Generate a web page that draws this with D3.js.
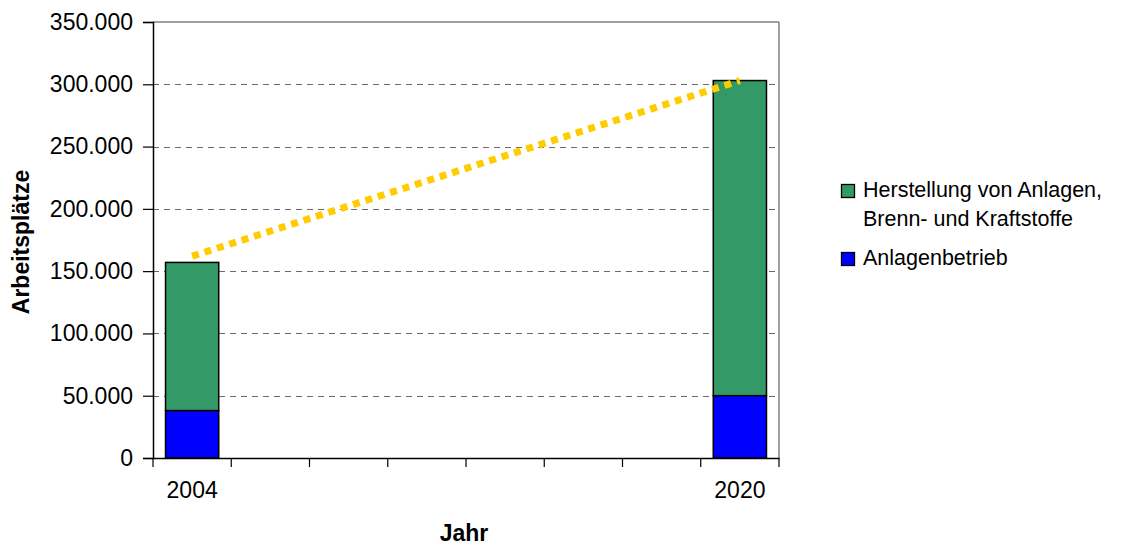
<!DOCTYPE html>
<html>
<head>
<meta charset="utf-8">
<script src="https://cdn.jsdelivr.net/npm/d3@7"></script>
<style>
  html, body { margin: 0; padding: 0; background: #fff; }
  svg { display: block; font-family: "Liberation Sans", Arial, sans-serif; }
</style>
</head>
<body>
<svg id="chart" width="1136" height="547"></svg>
<script>
// ---- data ----
const categories = ["2004", "_1", "_2", "_3", "_4", "_5", "_6", "2020"];
const barYears = ["2004", "2020"];
const anlagenbetrieb = [38000, 50000];
const herstellung = [119000, 253000];
const trendValues = [162000, 303000];
const yTicks = [0, 50000, 100000, 150000, 200000, 250000, 300000, 350000];
const seriesNames = ["Herstellung von Anlagen,|Brenn- und Kraftstoffe", "Anlagenbetrieb"];
const seriesColors = ["#339966", "#0000FF"];

// ---- layout ----
const svg = d3.select("#chart");
const pLeft = 153, pRight = 779, pTop = 22, pBottom = 458;

const x = d3.scaleBand().domain(categories).range([pLeft, pRight]).padding(0);
const y = d3.scaleLinear().domain([0, 350000]).range([pBottom, pTop]);
const de = d3.formatLocale({ decimal: ",", thousands: ".", grouping: [3], currency: ["", " €"] });
const fmt = de.format(",d");

// gridlines
svg.append("g").selectAll("line").data(yTicks.filter(d => d > 0 && d < 350000)).join("line")
  .attr("x1", pLeft).attr("x2", pRight)
  .attr("y1", d => Math.round(y(d)) + 0.5).attr("y2", d => Math.round(y(d)) + 0.5)
  .attr("stroke", "#6a6a6a").attr("stroke-width", 1.2).attr("stroke-dasharray", "6,5");

// border top/right
svg.append("line").attr("x1", pLeft).attr("x2", pRight).attr("y1", y(350000)).attr("y2", y(350000))
  .attr("stroke", "#808080").attr("stroke-width", 1.5);
svg.append("line").attr("x1", pRight).attr("x2", pRight).attr("y1", pTop).attr("y2", pBottom)
  .attr("stroke", "#808080").attr("stroke-width", 1.5);

// bars
const barW = x.bandwidth() * 0.68;
const stackData = barYears.map((yr, i) => ({ year: yr, a: anlagenbetrieb[i], h: herstellung[i] }));
const bx = d => x(d.year) + (x.bandwidth() - barW) / 2;
const gBars = svg.append("g");
gBars.selectAll("rect.h").data(stackData).join("rect").attr("class", "h")
  .attr("x", bx).attr("width", barW)
  .attr("y", d => y(d.a + d.h)).attr("height", d => y(d.a) - y(d.a + d.h))
  .attr("fill", seriesColors[0]).attr("stroke", "#000").attr("stroke-width", 1.5);
gBars.selectAll("rect.a").data(stackData).join("rect").attr("class", "a")
  .attr("x", bx).attr("width", barW)
  .attr("y", d => y(d.a)).attr("height", d => y(0) - y(d.a))
  .attr("fill", seriesColors[1]).attr("stroke", "#000").attr("stroke-width", 1.5);

// trend line
const line = d3.line().x((d, i) => x(barYears[i]) + x.bandwidth() / 2).y(d => y(d));
svg.append("path").datum(trendValues).attr("d", line)
  .attr("fill", "none").attr("stroke", "#FFCC00").attr("stroke-width", 7)
  .attr("stroke-dasharray", "7,6");

// y axis
const yAxis = d3.axisLeft(y).tickValues(yTicks).tickFormat(fmt).tickSize(10).tickPadding(10);
const gy = svg.append("g").attr("transform", `translate(${pLeft},0)`).call(yAxis);
gy.select(".domain").attr("stroke", "#000").attr("stroke-width", 1.5);
gy.selectAll(".tick line").attr("stroke", "#000").attr("stroke-width", 1.2);
gy.selectAll(".tick text").attr("font-size", 23).attr("fill", "#000")
  .attr("font-family", "'Liberation Sans', Arial, sans-serif");

// x axis
const xAxis = d3.axisBottom(x).tickSize(0).tickPadding(24)
  .tickFormat(d => d.startsWith("_") ? "" : d);
const gx = svg.append("g").attr("transform", `translate(0,${pBottom})`).call(xAxis);
gx.select(".domain").attr("stroke", "#000").attr("stroke-width", 1.5);
gx.selectAll(".tick text").attr("font-size", 23).attr("fill", "#000")
  .attr("font-family", "'Liberation Sans', Arial, sans-serif");
// category boundary ticks
const bounds = categories.map(c => x(c)).concat([pRight]);
gx.append("g").selectAll("line").data(bounds).join("line")
  .attr("x1", d => d).attr("x2", d => d).attr("y1", 0).attr("y2", 9)
  .attr("stroke", "#000").attr("stroke-width", 1.2);

// axis titles
svg.append("text").attr("transform", "translate(29,242) rotate(-90)")
  .attr("text-anchor", "middle").attr("font-size", 23).attr("font-weight", "bold")
  .text("Arbeitsplätze");
svg.append("text").attr("x", 464).attr("y", 541)
  .attr("text-anchor", "middle").attr("font-size", 23).attr("font-weight", "bold")
  .text("Jahr");

// legend
const legendY = [184, 252];
const lg = svg.append("g");
seriesNames.forEach((name, i) => {
  lg.append("rect").attr("x", 841.5).attr("y", legendY[i] + 0.5).attr("width", 13).attr("height", 13)
    .attr("fill", seriesColors[i]).attr("stroke", "#000").attr("stroke-width", 1.3);
  const lines = name.split("|");
  lines.forEach((t, j) => {
    lg.append("text").attr("x", 863).attr("y", legendY[i] + 13 + j * 29)
      .attr("font-size", 21.5).attr("fill", "#000").text(t);
  });
});
</script>
</body>
</html>
